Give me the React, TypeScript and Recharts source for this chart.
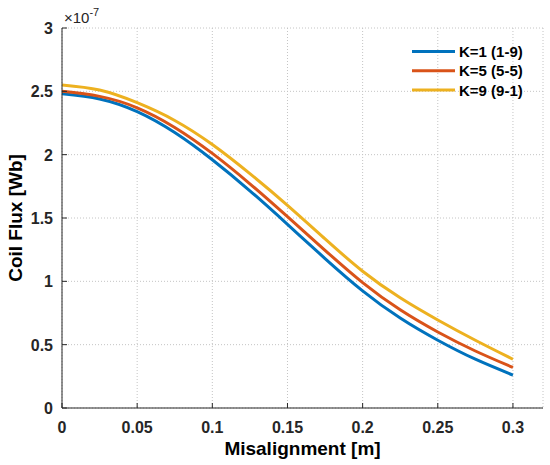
import { CartesianGrid, Label, Line, LineChart, XAxis, YAxis } from "recharts";

// misalignment [m]
const xs = [0, 0.025, 0.05, 0.075, 0.1, 0.125, 0.15, 0.175, 0.2, 0.225, 0.25, 0.275, 0.3];
// coil flux, x1e-7 Wb
const k1 = [2.48, 2.44, 2.34, 2.175, 1.96, 1.715, 1.45, 1.18, 0.925, 0.71, 0.535, 0.385, 0.26];
const k5 = [2.5, 2.46, 2.37, 2.215, 2.01, 1.77, 1.51, 1.245, 0.99, 0.775, 0.6, 0.45, 0.32];
const k9 = [2.55, 2.51, 2.41, 2.27, 2.08, 1.85, 1.6, 1.335, 1.08, 0.87, 0.695, 0.535, 0.385];

const xTicks = [0, 0.05, 0.1, 0.15, 0.2, 0.25, 0.3];
const yTicks = [0, 0.5, 1, 1.5, 2, 2.5, 3];

const series = [
  { key: "k1", name: "K=1 (1-9)", color: "#0072BD" },
  { key: "k5", name: "K=5 (5-5)", color: "#D95319" },
  { key: "k9", name: "K=9 (9-1)", color: "#EDB120" },
];

const data = xs.map((x, i) => ({ x, k1: k1[i], k5: k5[i], k9: k9[i] }));

const FONT = '"Liberation Sans", Arial, sans-serif';
const INK = "#262626";

function XTick(props: any) {
  const { x, y, payload } = props;
  return (
    <g>
      <line x1={x} x2={x} y1={y} y2={y - 5} stroke={INK} strokeWidth={1} />
      <text x={x} y={y + 25} textAnchor="middle" fill={INK} fontSize={16} fontWeight="bold" fontFamily={FONT}>
        {payload.value}
      </text>
    </g>
  );
}

function YTick(props: any) {
  const { x, y, payload } = props;
  return (
    <g>
      <line x1={x} x2={x + 5} y1={y} y2={y} stroke={INK} strokeWidth={1} />
      <text x={x - 9} y={y + 6} textAnchor="end" fill={INK} fontSize={16} fontWeight="bold" fontFamily={FONT}>
        {payload.value}
      </text>
    </g>
  );
}

function Extras() {
  return (
    <g>
      <text
        x={22}
        y={218}
        transform="rotate(-90 22 218)"
        textAnchor="middle"
        fill="#000"
        fontSize={19}
        fontWeight="bold"
        fontFamily={FONT}
      >
        Coil Flux [Wb]
      </text>
      <text x={64} y={23} fill={INK} fontSize={15} fontFamily={FONT}>
        {"\u00d710"}
        <tspan fontSize={11} dy={-7}>
          -7
        </tspan>
      </text>
      {series.map((s, i) => (
        <g key={s.key}>
          <line x1={412} x2={455} y1={51.5 + i * 19.3} y2={51.5 + i * 19.3} stroke={s.color} strokeWidth={3} />
          <text x={459} y={57 + i * 19.3} fill="#000" fontSize={15} fontWeight="bold" fontFamily={FONT}>
            {s.name}
          </text>
        </g>
      ))}
    </g>
  );
}

export default function App() {
  return (
    <div style={{ position: "absolute", left: 0, top: 0, width: 550, height: 465, background: "#fff" }}>
      <LineChart width={550} height={465} data={data} margin={{ top: 28, right: 7, left: 0, bottom: 0 }}>
        <CartesianGrid stroke="#c4c4c4" strokeDasharray="1 2" />
        <XAxis
          dataKey="x"
          type="number"
          domain={[0, 0.32]}
          ticks={xTicks}
          height={57}
          tickSize={0}
          tickMargin={0}
          tickLine={false}
          tick={<XTick />}
          axisLine={{ stroke: INK, strokeWidth: 1 }}
          allowDataOverflow
        >
          <Label
            content={() => (
              <text x={302.5} y={455} textAnchor="middle" fill="#000" fontSize={19} fontWeight="bold" fontFamily={FONT}>
                Misalignment [m]
              </text>
            )}
          />
        </XAxis>
        <YAxis
          type="number"
          domain={[0, 3]}
          ticks={yTicks}
          width={62}
          tickSize={0}
          tickMargin={0}
          tickLine={false}
          tick={<YTick />}
          axisLine={{ stroke: INK, strokeWidth: 1 }}
        >
          <Label content={() => <Extras />} />
        </YAxis>
        {series.map((s) => (
          <Line
            key={s.key}
            type="natural"
            dataKey={s.key}
            name={s.name}
            stroke={s.color}
            strokeWidth={3}
            dot={false}
            isAnimationActive={false}
          />
        ))}
      </LineChart>
    </div>
  );
}
